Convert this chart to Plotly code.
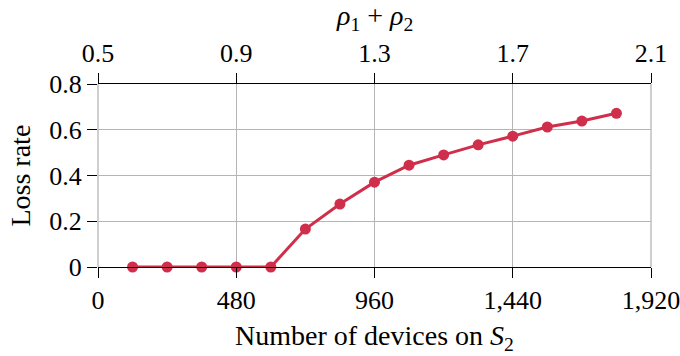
import plotly.graph_objects as go

devices = [120, 240, 360, 480, 600, 720, 840, 960, 1080, 1200, 1320, 1440, 1560, 1680, 1800]
loss_rate = [0, 0, 0, 0, 0, 0.166, 0.275, 0.371, 0.445, 0.49, 0.534, 0.572, 0.612, 0.638, 0.672]
x_ticks = [0, 480, 960, 1440, 1920]
rho_ticks = [0.5, 0.9, 1.3, 1.7, 2.1]
y_ticks = [0, 0.2, 0.4, 0.6, 0.8]
y_tick_labels = ["0", "0.2", "0.4", "0.6", "0.8"]

FONT = "Liberation Serif"
RED = "#cf2f4a"
GRID = "#b5b5b5"
TICK_SIZE = 26
TITLE_SIZE = 28

fig = go.Figure()
fig.add_trace(go.Scatter(
    x=devices, y=loss_rate, mode="lines+markers",
    line=dict(color=RED, width=3),
    marker=dict(color=RED, size=11),
    showlegend=False, cliponaxis=False,
))
# invisible trace to activate top axis
fig.add_trace(go.Scatter(x=[rho_ticks[0], rho_ticks[-1]], y=[0, 0], xaxis="x2",
                         mode="markers", marker=dict(opacity=0), showlegend=False,
                         hoverinfo="skip"))

fig.update_layout(
    width=680, height=356,
    margin=dict(l=98, r=29, t=84, b=89),
    paper_bgcolor="white", plot_bgcolor="white",
    font=dict(family=FONT, size=TICK_SIZE, color="black"),
    xaxis=dict(
        range=[0, 1920], tickvals=x_ticks,
        ticktext=[f"{v:,}" for v in x_ticks],
        showgrid=True, gridcolor=GRID, gridwidth=1.3,
        showline=True, linecolor="black", linewidth=1.3,
        ticks="outside", ticklen=10, tickcolor="black", tickwidth=1.3,
        zeroline=False, automargin=False, ticklabeloverflow="allow",
    ),
    xaxis2=dict(
        range=[0.5, 2.1], tickvals=rho_ticks,
        ticktext=[f"{v:.1f}" for v in rho_ticks],
        overlaying="x", side="top", anchor="y",
        showgrid=False, showline=True, linecolor="black", linewidth=1.3,
        ticks="outside", ticklen=10, tickcolor="black", tickwidth=1.3,
        zeroline=False, automargin=False, ticklabeloverflow="allow",
    ),
    yaxis=dict(
        range=[0, 0.8], tickvals=y_ticks, ticktext=y_tick_labels,
        showgrid=True, gridcolor=GRID, gridwidth=1.3,
        showline=False, zeroline=False,
        ticks="outside", ticklen=10, tickcolor="black", tickwidth=1.3,
        automargin=False,
    ),
)
fig.add_shape(type="line", xref="paper", yref="paper", x0=0, x1=0, y0=0, y1=1,
              line=dict(color=GRID, width=1.3), layer="below")
fig.add_shape(type="line", xref="paper", yref="paper", x0=1, x1=1, y0=0, y1=1,
              line=dict(color=GRID, width=1.3), layer="below")

fig.add_annotation(text="Number of devices on <i>S</i><sub>2</sub>", xref="paper", yref="paper",
                   x=0.5, y=-0.385, yanchor="middle", xanchor="center", showarrow=False,
                   borderpad=0, font=dict(size=TITLE_SIZE))
fig.add_annotation(text="<i>ρ</i><sub>1</sub> + <i>ρ</i><sub>2</sub>", xref="paper", yref="paper",
                   x=0.5, y=1.365, yanchor="middle", xanchor="center", showarrow=False,
                   borderpad=0, font=dict(size=28))
fig.add_annotation(text="Loss rate", xref="paper", yref="paper", textangle=-90,
                   x=-0.141, y=0.5, yanchor="middle", xanchor="center", showarrow=False,
                   borderpad=0, font=dict(size=TITLE_SIZE))

fig.write_html(
    "out.html",
    config={"displayModeBar": False},
    post_script="document.body.style.margin='0';document.documentElement.style.margin='0';",
)
